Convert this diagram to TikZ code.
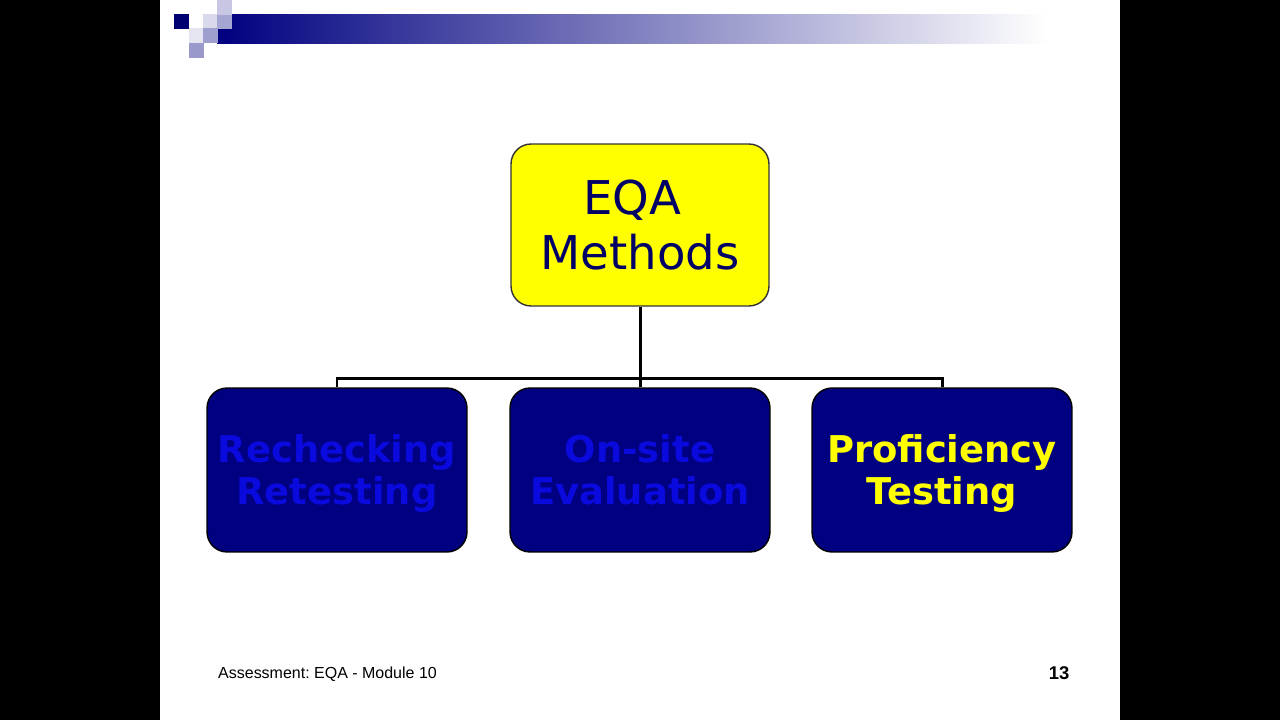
\documentclass[tikz,border=0pt]{standalone}
\usepackage{fontspec}
\setmainfont{DejaVu Sans}
\newfontfamily\footfont{Liberation Sans}
\usepackage{xcolor}
\definecolor{eqanavy}{RGB}{0,0,128}
\definecolor{eqadark}{RGB}{0,0,102}
\definecolor{eqablue}{RGB}{10,10,222}
\definecolor{eqayellow}{RGB}{255,255,0}
\definecolor{barmid}{RGB}{150,150,205}
\usetikzlibrary{positioning}

\begin{document}
\begin{tikzpicture}[x=0.02cm,y=-0.02cm,
  topbox/.style={draw=black!80,line width=0.8pt,rounded corners=0.4cm,fill=eqayellow,
    minimum width=5.16cm,minimum height=3.24cm,align=center,text=eqadark,
    font=\fontsize{26.5}{31}\selectfont},
  subbox/.style={draw=black,line width=0.8pt,rounded corners=0.4cm,fill=eqanavy,
    minimum width=5.2cm,minimum height=3.28cm,align=center,
    font=\fontsize{21}{23.5}\selectfont\bfseries,
    execute at begin node={\rule{0pt}{46pt}},execute at end node=\strut},
  link/.style={line width=1.7pt,black}
]
  % Frame
  \useasboundingbox (0,0) rectangle (1280,720);
  \fill[black] (0,0) rectangle (1280,720);
  \fill[white] (160,0) rectangle (1120,720);
  % Title bar
  \shade[left color=eqanavy,middle color=barmid,right color=white] (217,14) rectangle (1047,43);
  \foreach \sx/\sy/\sc in {174/14/eqanavy!90!black,203/14/eqanavy!15,217/14/eqanavy!35,
      217/0/eqanavy!22,189/28/eqanavy!10,203/28/eqanavy!38,189/43/eqanavy!40}
    \fill[\sc] (\sx,\sy) rectangle ++(14.5,14.5);
  % Boxes
  \node[topbox] (eqa) at (640,225) {EQA\hspace*{0.32cm}\\Methods};
  \node[subbox,text=eqablue] (rech) at (337,470) {Rechecking\\Retesting};
  \node[subbox,text=eqablue] (onsite) at (640,470) {On-site\\Evaluation};
  \node[subbox,text=eqayellow] (prof) at (942,470) {Proficiency\\Testing};
  % Connectors
  \coordinate (bus) at (640,378);
  \draw[link] (eqa.south) -- (onsite.north);
  \draw[link] (rech.north) |- (bus) -| (prof.north);
  % Footer
  \node[anchor=west,font=\footfont\fontsize{9.1}{11}\selectfont] (foot) at (212,674) {\frenchspacing Assessment: EQA - Module 10};
  \node[font=\footfont\fontsize{10.5}{12}\selectfont\bfseries] (page) at (1059,673) {13};
\end{tikzpicture}
\end{document}
